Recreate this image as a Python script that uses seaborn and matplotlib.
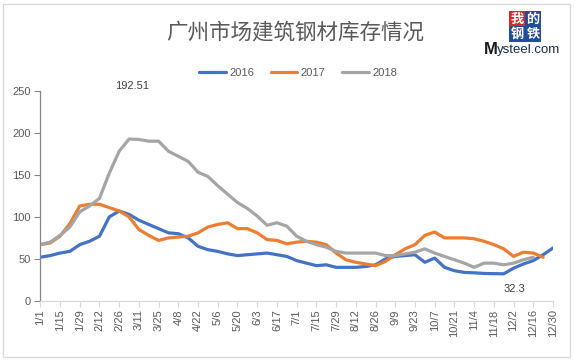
import numpy as np
import pandas as pd
import seaborn as sns
import matplotlib
matplotlib.use("Agg")
import matplotlib.pyplot as plt
from matplotlib.patches import Rectangle

# ---------------- data ----------------
categories = ["1/1", "1/8", "1/15", "1/22", "1/29", "2/5", "2/12", "2/19", "2/26", "3/4",
              "3/11", "3/18", "3/25", "4/1", "4/8", "4/15", "4/22", "4/29", "5/6", "5/13",
              "5/20", "5/27", "6/3", "6/10", "6/17", "6/24", "7/1", "7/8", "7/15", "7/22",
              "7/29", "8/5", "8/12", "8/19", "8/26", "9/2", "9/9", "9/16", "9/23", "9/30",
              "10/7", "10/14", "10/21", "10/28", "11/4", "11/11", "11/18", "11/25", "12/2",
              "12/9", "12/16", "12/23", "12/30"]

s2016 = [52, 54, 57, 59, 67, 71, 77, 100, 107, 103,
         96, 91, 86, 81, 80, 75, 65, 61, 59, 56,
         54, 55, 56, 57, 55, 53, 48, 45, 42, 43,
         40, 40, 40, 41, 43, 50, 53, 54, 55, 46,
         51, 40, 36, 34, 33.5, 32.8, 32.5, 32.3, 39,
         44, 48, 55, 63]

s2017 = [67, 69, 77, 92, 113, 115, 115, 111, 107, 100,
         85, 78, 72, 75, 76, 77, 81, 88, 91, 93,
         86, 86, 81, 73, 72, 68, 70, 71, 70, 67,
         57, 49, 46, 44, 42, 47, 55, 62, 67, 78,
         82, 75, 75, 75, 74, 71, 67, 62, 53,
         58, 57, 52, np.nan]

s2018 = [67, 70, 78, 88, 106, 113, 122, 152, 178, 192.51,
         192, 190, 190, 178, 172, 166, 153, 148, 137, 127,
         117, 110, 101, 90, 93, 89, 77, 71, 67, 64,
         59, 57, 57, 57, 57, 54, 54, 56, 58, 62,
         57, 53, 49, 45, 40, 45, 45, 43, 45,
         49, 52, np.nan, np.nan]

series_names = ["2016", "2017", "2018"]
series_colors = ["#4472C4", "#ED7D31", "#A5A5A5"]
title_text = "广州市场建筑钢材库存情况"
y_ticks = [0, 50, 100, 150, 200, 250]

rows = []
for name, vals in zip(series_names, [s2016, s2017, s2018]):
    for i, v in enumerate(vals):
        rows.append({"pos": i, "value": v, "year": name})
df = pd.DataFrame(rows)

# ---------------- figure ----------------
sns.set_theme(style="white")
plt.rcParams["font.family"] = ["Liberation Sans", "Noto Sans CJK SC", "DejaVu Sans"]

W, H = 575, 363
fig = plt.figure(figsize=(W / 100, H / 100), dpi=100)
fig.patch.set_facecolor("white")

# chart border
fig.patches.append(Rectangle((3 / W, 1 - 357 / H), (570 - 3) / W, (357 - 4) / H,
                             transform=fig.transFigure, fill=False,
                             edgecolor="#D9D9D9", linewidth=1.0))

left, right, top, bottom = 40.3, 553, 90.7, 301
ax = fig.add_axes([left / W, 1 - bottom / H, (right - left) / W, (bottom - top) / H])

sns.lineplot(data=df, x="pos", y="value", hue="year", palette=series_colors,
             hue_order=series_names, linewidth=2.3, ax=ax, legend=False, sort=True)

ax.set_xlim(0, len(categories) - 1)
ax.set_ylim(0, 250)
ax.set_xlabel("")
ax.set_ylabel("")
ax.set_yticks(y_ticks)
ax.set_yticklabels([str(t) for t in y_ticks], fontsize=8, color="#595959")
xt = list(range(0, len(categories), 2))
ax.set_xticks(xt)
ax.set_xticklabels([categories[i] for i in xt], rotation=90, fontsize=8, color="#595959")
ax.tick_params(axis="x", length=4, width=0.8, color="#D9D9D9", pad=2, bottom=True)
ax.tick_params(axis="y", length=4, width=0.8, color="#868686", pad=3, left=True)
for s in ["top", "right"]:
    ax.spines[s].set_visible(False)
ax.spines["left"].set_color("#868686")
ax.spines["left"].set_linewidth(0.9)
ax.spines["bottom"].set_color("#D9D9D9")
ax.spines["bottom"].set_linewidth(0.9)
ax.grid(False)
ax.set_facecolor("white")

# data labels
imax = int(np.nanargmax(s2018))
ax.annotate(f"{s2018[imax]:.2f}", (imax, s2018[imax]), xytext=(2, 38),
            textcoords="offset points", ha="center", va="center",
            fontsize=8, color="#404040")
imin = int(np.nanargmin(s2016))
ax.annotate(f"{s2016[imin]:g}", (imin, s2016[imin]), xytext=(8, -11),
            textcoords="offset points", ha="center", va="center",
            fontsize=8, color="#404040")

# title
fig.text(295 / W, 1 - 32 / H, title_text, ha="center", va="center",
         fontsize=15.5, color="#595959", family=["Noto Sans CJK SC", "DejaVu Sans"])

# legend
from matplotlib.lines import Line2D
handles = [Line2D([0], [0], color=c, lw=2.3) for c in series_colors]
fig.legend(handles, series_names, loc="center", bbox_to_anchor=(298 / W, 1 - 73 / H),
           ncol=3, frameon=False, fontsize=8, handlelength=2.4, handletextpad=0.3,
           columnspacing=1.5, labelcolor="#595959")

# logo
cjk = ["Noto Sans CJK SC", "DejaVu Sans"]
logo_chars = [("我", 517, 19, "#D42A2A"), ("的", 533, 19, "#1F4E9C"),
              ("钢", 517, 34, "#1F4E9C"), ("铁", 533, 34, "#1F4E9C")]
for ch, x, y, col in logo_chars:
    fig.text(x / W, 1 - y / H, ch, ha="center", va="center", fontsize=9.5,
             color="white", family=cjk, fontweight="bold",
             bbox=dict(boxstyle="square,pad=0.08", fc=col, ec="none"))
fig.text(484 / W, 1 - 49 / H, "M", ha="left", va="center", fontsize=12,
         color="#1A1A1A", fontweight="bold")
fig.text(497 / W, 1 - 50 / H, "ysteel.com", ha="left", va="center", fontsize=9.5,
         color="#1A2A4A")

fig.savefig("out.png", dpi=100, facecolor="white")
